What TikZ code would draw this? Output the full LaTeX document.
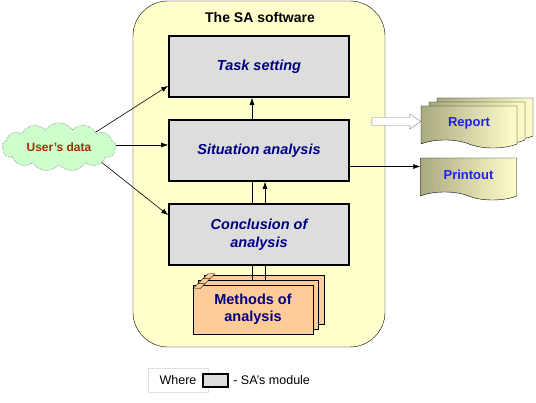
\documentclass[tikz,border=0pt]{standalone}
\usepackage{fontspec}
\setmainfont{Liberation Sans}
\usepackage{xcolor}
\usepackage{tikz}
\usetikzlibrary{shapes.symbols,arrows.meta}
\definecolor{fond}{RGB}{255,255,204}
\definecolor{gris}{RGB}{221,221,221}
\definecolor{marine}{RGB}{0,0,128}
\definecolor{vert}{RGB}{204,255,204}
\definecolor{brique}{RGB}{153,51,0}
\definecolor{peche}{RGB}{255,204,153}
\definecolor{olive}{RGB}{170,170,128}
\definecolor{bleu}{RGB}{30,30,245}

\begin{document}
\begin{tikzpicture}[x=1pt,y=-1pt,->,>={Latex[length=7pt,width=5pt]},node distance=84pt,semithick,
   sa frame/.style={draw,thin,fill=fond,rounded corners=35pt,minimum width=252pt,minimum height=346pt},
   sa module/.style={rectangle,draw,line width=1.6pt,fill=gris,minimum width=180pt,minimum height=61pt,
      align=center,text=marine,font=\fontsize{14.5}{18}\selectfont\bfseries\itshape},
   methods card/.style={rectangle,draw,thin,fill=peche,minimum width=120pt,minimum height=49pt,
      align=center,text=marine,font=\fontsize{14.5}{17}\selectfont\bfseries},
   doc sheet/.style={tape,tape bend top=none,tape bend bottom=out and in,tape bend height=8pt,draw,thin,
      left color=olive,right color=fond,minimum width=96pt,minimum height=42pt,
      text=bleu,font=\fontsize{13}{15}\selectfont\bfseries},
   user cloud/.style={cloud,cloud puffs=13,cloud puff arc=110,aspect=2.4,draw=gray,densely dotted,
      fill=vert,minimum width=114pt,minimum height=48pt,inner sep=0pt,
      text=brique,font=\fontsize{12}{14}\selectfont\bfseries},
   hollow arrow/.style={-,draw=gray,fill=white,thin}]

  \useasboundingbox (0,0) rectangle (536,403);

  \node[sa frame] (sa) at (259,174) {};
  \node[font=\fontsize{14}{16}\selectfont\bfseries] (title) at (260,18) {The SA software};

  \node[sa module] (task) at (259,66.5) {Task setting};
  \node[sa module] (sit) [below of=task] {Situation analysis};
  \node[sa module] (conc) [below of=sit] {Conclusion of\\analysis};

  \node[methods card] (methc) at (264,299.5) {};
  \node[methods card] (methb) at (258.5,304.5) {};
  \node[methods card] (meth) at (253,309.5) {Methods of\\analysis};
  \foreach \k in {2,1,0}
    \draw[-,thin,fill=peche] ([shift={(\k*5,-\k*5+4)}]meth.north west) -- ++(5,-5) -- ++(7,0) -- ++(-5,5) -- cycle;

  \node[user cloud] (user) at (59,147) {User's data};

  \node[doc sheet] (rep3) at (485,115) {};
  \node[doc sheet] (rep2) at (477,119) {};
  \node[doc sheet] (rep) at (469,123) {Report};
  \node[doc sheet] (print) at (468.5,175) {Printout};
  \draw[hollow arrow] ([yshift=1.5pt]rep.west) -- ++(-11,-7.5) -- ++(0,3.5) -- ++(-38,0) -- ++(0,8)
     -- ++(38,0) -- ++(0,3.5) -- cycle;

  \foreach \from/\to in {user.22/task.192,user.-20/conc.168} \draw (\from) -- (\to);
  \draw (user.2) -- (user.2 -| sit.west);
  \draw (sit.-10) -- (sit.-10 -| print.west);
  \draw ([xshift=-7pt]sit.north) -- ([xshift=-7pt]task.south);
  \draw ([xshift=6pt]conc.north) -- ([xshift=6pt]sit.south);
  \draw[-] ([xshift=-7pt]conc.north) -- ([xshift=-7pt]sit.south);
  \draw[-] ([xshift=-7pt]conc.south) -- ([xshift=-7pt]conc.south |- methb.north);
  \draw[-] ([xshift=6pt]conc.south) -- ([xshift=6pt]conc.south |- methb.north);

  \node[draw=black!12,thin,minimum width=60pt,minimum height=24pt,font=\fontsize{12.5}{14}\selectfont] (where) at (178,380) {Where};
  \node[draw,line width=1.4pt,fill=gris,minimum width=25pt,minimum height=13pt,inner sep=0pt] (legmod) at (215.5,380.5) {};
  \node[anchor=west,inner sep=0pt,font=\fontsize{12.5}{14}\selectfont] (legtext) at (233,380) {- SA's module};
\end{tikzpicture}
\end{document}
